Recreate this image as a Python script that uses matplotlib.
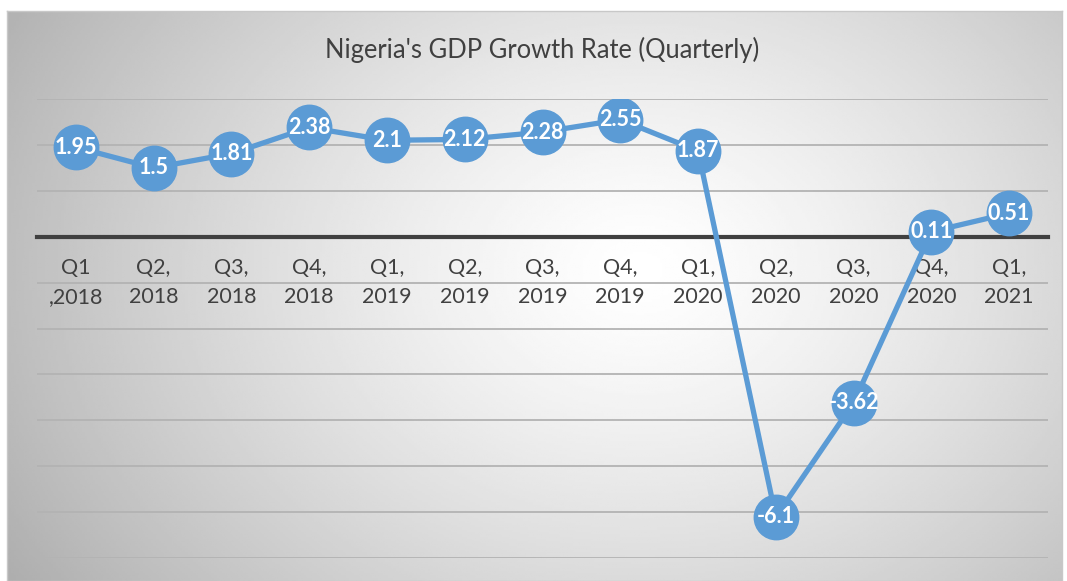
import matplotlib.pyplot as plt
import numpy as np

quarters = ["Q1\n,2018", "Q2,\n2018", "Q3,\n2018", "Q4,\n2018",
            "Q1,\n2019", "Q2,\n2019", "Q3,\n2019", "Q4,\n2019",
            "Q1,\n2020", "Q2,\n2020", "Q3,\n2020", "Q4,\n2020",
            "Q1,\n2021"]
growth = [1.95, 1.5, 1.81, 2.38, 2.1, 2.12, 2.28, 2.55, 1.87, -6.1, -3.62, 0.11, 0.51]
value_labels = ["1.95", "1.5", "1.81", "2.38", "2.1", "2.12", "2.28", "2.55",
                "1.87", "-6.1", "-3.62", "0.11", "0.51"]

blue = "#5B9BD5"
text_gray = "#404040"
W, H = 1067, 581

fig = plt.figure(figsize=(W / 100, H / 100), dpi=100)
fig.patch.set_facecolor("white")

# radial gradient background of the chart area
bg = fig.add_axes([7 / W, 0, (1062 - 7) / W, (H - 11) / H])
xx, yy = np.meshgrid(np.linspace(7, 1062, 400), np.linspace(11, 581, 250))
r = np.sqrt(((xx - 640) / 620) ** 2 + ((yy - 270) / 480) ** 2)
shade = 1 - 0.25 * np.clip(r, 0, 1.4) ** 1.3
bg.imshow(shade, cmap="gray", vmin=0, vmax=1, aspect="auto",
          extent=[0, 1, 0, 1], origin="upper")
bg.set_xticks([])
bg.set_yticks([])
for s in bg.spines.values():
    s.set_color("#c8c8c8")
    s.set_linewidth(1)

ax = fig.add_axes([37 / W, 23 / H, (1048 - 37) / W, (558 - 99) / H])
ax.patch.set_alpha(0)
x = np.arange(len(growth))
ax.set_xlim(-0.5, len(growth) - 0.5)
ax.set_ylim(-7, 3)
ax.set_yticks(range(-7, 4))
ax.yaxis.grid(True, color="#b3b3b3", lw=1.3)
ax.set_axisbelow(True)
ax.tick_params(axis="y", left=False, labelleft=False)
for side in ["top", "right", "left"]:
    ax.spines[side].set_visible(False)
ax.spines["bottom"].set_position(("data", 0))
ax.spines["bottom"].set_color("#404040")
ax.spines["bottom"].set_linewidth(3)
ax.spines["bottom"].set_zorder(1)
ax.set_xticks(x)
ax.set_xticklabels(quarters, fontsize=15.5, color=text_gray, family="Lato",
                   linespacing=1.6)
ax.tick_params(axis="x", length=0, pad=15)

ax.plot(x, growth, color=blue, lw=3.8, marker="o", markersize=32,
        markerfacecolor=blue, markeredgecolor=blue, zorder=3)
for xi, yi, lab in zip(x, growth, value_labels):
    ax.text(xi, yi, lab, ha="center", va="center", color="white",
            fontsize=15.5, fontweight="bold", family="Lato", zorder=4)

fig.text(542 / W, 1 - 50 / H, "Nigeria's GDP Growth Rate (Quarterly)",
         ha="center", va="center", fontsize=18.4, color=text_gray, family="Lato")

fig.savefig("out.png", dpi=100)
